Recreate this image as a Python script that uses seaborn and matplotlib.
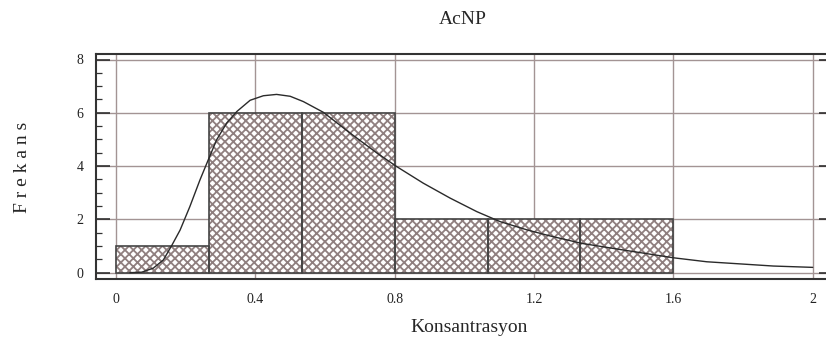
import numpy as np
import pandas as pd
import matplotlib
matplotlib.use("Agg")
import matplotlib.pyplot as plt
from matplotlib.ticker import MultipleLocator, FixedLocator
import seaborn as sns

# ---- data ----
bin_edges = [0.0, 0.2667, 0.5333, 0.8, 1.0667, 1.3333, 1.6]
counts = [1, 6, 6, 2, 2, 2]
curve_x = [0.04, 0.074, 0.107, 0.136, 0.16, 0.184, 0.212, 0.241, 0.265, 0.289,
           0.318, 0.347, 0.385, 0.423, 0.461, 0.5, 0.538, 0.595, 0.672, 0.749,
           0.806, 0.882, 0.959, 1.036, 1.102, 1.179, 1.246, 1.337, 1.457, 1.6,
           1.696, 1.792, 1.887, 2.0]
curve_y = [0.0, 0.02, 0.17, 0.48, 1.02, 1.6, 2.48, 3.48, 4.24, 4.99,
           5.62, 6.05, 6.47, 6.64, 6.69, 6.62, 6.42, 6.02, 5.24, 4.49,
           3.98, 3.36, 2.8, 2.29, 1.92, 1.61, 1.38, 1.1, 0.85, 0.56,
           0.41, 0.33, 0.25, 0.2]
x_ticks = [0, 0.4, 0.8, 1.2, 1.6, 2.0]
x_tick_labels = ["0", "0.4", "0.8", "1.2", "1.6", "2"]
y_ticks = [0, 2, 4, 6, 8]
title = "AcNP"
x_label = "Konsantrasyon"
y_label = "F r e k a n s"

sns.set_style("white")
plt.rcParams["font.family"] = ["Liberation Serif", "DejaVu Serif"]
plt.rcParams["hatch.linewidth"] = 1.3

W, H = 826, 344
fig = plt.figure(figsize=(W / 100, H / 100), dpi=100)
left_px, right_px, top_px, bottom_px = 96, 833, 54, 279
ax = fig.add_axes([left_px / W, 1 - bottom_px / H,
                   (right_px - left_px) / W, (bottom_px - top_px) / H])

centers = [(a + b) / 2 for a, b in zip(bin_edges[:-1], bin_edges[1:])]
df = pd.DataFrame({"x": centers, "n": counts})

grid_col = "#a39494"
hatch_col = "#8f7f7f"
edge_col = "#444444"

# hatched layer
sns.histplot(data=df, x="x", weights="n", bins=bin_edges, ax=ax,
             color="white", edgecolor=hatch_col, linewidth=0, alpha=1,
             hatch="xxxx", zorder=2)
# outline layer
sns.histplot(data=df, x="x", weights="n", bins=bin_edges, ax=ax,
             fill=False, color=edge_col, edgecolor=edge_col, linewidth=1.2,
             zorder=3)

curve = pd.DataFrame({"x": curve_x, "y": curve_y})
sns.lineplot(data=curve, x="x", y="y", ax=ax, color="#2a2a2a",
             linewidth=1.0, zorder=4)

x_per_px = 2.0 / (812.7 - 116)
ax.set_xlim(0 - (116 - left_px) * x_per_px, 2.0 + (right_px - 812.7) * x_per_px)
y_per_px = 8.0 / (272.7 - 59.5)
ax.set_ylim(0 - (bottom_px - 272.7) * y_per_px, 8 + (59.5 - top_px) * y_per_px)

ax.xaxis.set_major_locator(FixedLocator(x_ticks))
ax.set_xticklabels(x_tick_labels)
ax.yaxis.set_major_locator(FixedLocator(y_ticks))
ax.yaxis.set_minor_locator(MultipleLocator(0.5))

ax.set_axisbelow(True)
ax.grid(True, which="major", color=grid_col, linewidth=1.0)

ax.tick_params(axis="x", which="both", length=0, labelsize=10, pad=10,
               colors="#222222")
ax.tick_params(axis="y", which="major", direction="in", length=10,
               width=1.1, left=True, right=True, labelsize=10, pad=9,
               colors="#222222")
ax.tick_params(axis="y", which="minor", direction="in", length=4.5,
               width=0.9, left=True, right=True, colors="#333333")

for s in ["top", "bottom", "left", "right"]:
    ax.spines[s].set_visible(True)
    ax.spines[s].set_color("#333333")
    ax.spines[s].set_linewidth(1.5)

ax.set_xlabel(x_label, fontsize=14)
ax.set_ylabel(y_label, fontsize=14)
ax.xaxis.set_label_coords(469 / W, 1 - 327 / H, transform=fig.transFigure)
ax.xaxis.label.set_verticalalignment("center")
ax.yaxis.set_label_coords(23 / W, 1 - 167 / H, transform=fig.transFigure)
ax.yaxis.label.set_verticalalignment("center")

fig.text(463 / W, 1 - 20 / H, title, ha="center", va="center", fontsize=14)

fig.savefig("out.png", dpi=100)
